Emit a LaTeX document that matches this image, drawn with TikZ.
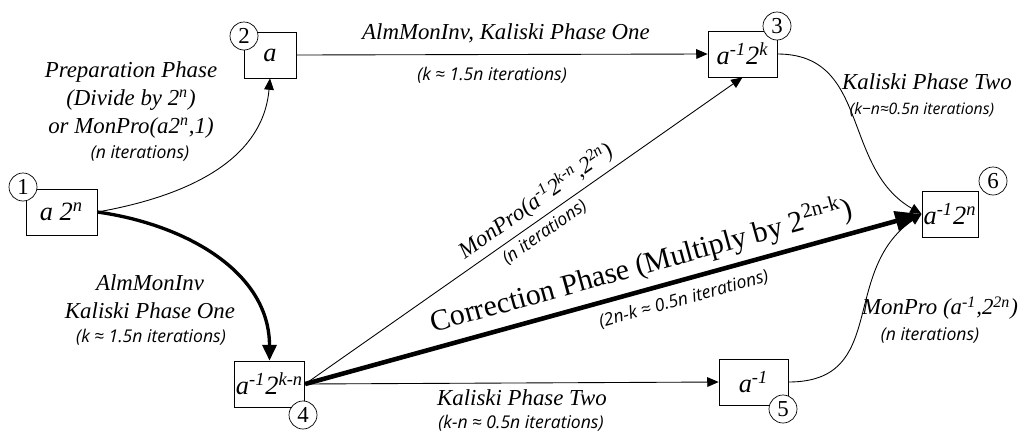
\documentclass[tikz,border=0pt]{standalone}
\usepackage{fontspec}
\setmainfont{Liberation Serif}
\newfontfamily\iterfont{Open Sans}
\usetikzlibrary{arrows.meta}

\begin{document}
\begin{tikzpicture}[x=0.02cm,y=-0.02cm,
  box/.style={draw,fill=white,inner sep=1pt,minimum height=0.92cm,font=\itshape\fontsize{15}{18}\selectfont},
  num/.style={draw,circle,fill=white,inner sep=0pt,minimum size=0.56cm,font=\fontsize{13}{15}\selectfont},
  lab/.style={font=\itshape\fontsize{13}{16}\selectfont,align=center,inner sep=1pt},
  iter/.style={font=\iterfont\itshape\fontsize{10}{12}\selectfont,inner sep=1pt},
  flow/.style={line width=0.5pt,-{Triangle[length=6.5pt,width=5.5pt]}},
  bigflow/.style={line width=1.9pt,-{Triangle[length=9pt,width=8pt]}},
  heavyflow/.style={line width=2.6pt,-{Triangle[length=15pt,width=11pt]}}]
\useasboundingbox (0,0) rectangle (1023,433);
% boxes
\node[box,minimum width=1.42cm] (n1) at (61.5,212) {a 2\textsuperscript{n}};
\node[box,minimum width=1.04cm] (n2) at (270,55) {a};
\node[box,minimum width=1.38cm] (n3) at (742.5,54) {a\textsuperscript{-1}2\textsuperscript{k}};
\node[box,minimum width=1.38cm] (n4) at (269.5,384) {a\textsuperscript{-1}2\textsuperscript{k-n}};
\node[box,minimum width=1.38cm] (n5) at (753.5,382) {a\textsuperscript{-1}};
\node[box,minimum width=1.08cm] (n6) at (950,214) {a\textsuperscript{-1}2\textsuperscript{n}};
% step numbers
\node[num] (c1) at (23,187) {1};
\node[num] (c2) at (244,36) {2};
\node[num] (c3) at (777,26) {3};
\node[num] (c4) at (303,415) {4};
\node[num] (c5) at (783,409) {5};
\node[num] (c6) at (993,181) {6};
% connectors
\draw[flow] (n1.east) to[out=10,in=-95] (n2.south);
\draw[flow] (n2.east) -- (n3.west);
\draw[bigflow] (n1.east) to[out=-8,in=90] (n4.north);
\draw[flow] (n3.east) to[out=0,in=150,looseness=1.1] (n6.west);
\draw[flow] (n5.east) to[out=0,in=215,looseness=1.2] (n6.west);
\draw[flow] (n4.east) -- (n5.west);
\draw[flow] (n4.east) -- (n3.south)
  node[pos=0.55,sloped,above=2pt,lab] (mpa) {MonPro(a\textsuperscript{-1}2\textsuperscript{k-n},2\textsuperscript{2n})}
  node[pos=0.53,sloped,below=2pt,iter] (mpait) {(n iterations)};
\draw[heavyflow] (n4.east) -- (n6.west)
  node[pos=0.556,sloped,above=3pt,font=\fontsize{17}{20}\selectfont,inner sep=1pt] (corr) {Correction Phase (Multiply by 2\textsuperscript{2n-k})}
  node[pos=0.606,sloped,below=4pt,iter] (corrit) {(2n-k ≈ 0.5n iterations)};
% labels
\node[lab] (prep) at (131,100) {Preparation Phase\\(Divide by 2\textsuperscript{n})\\or MonPro(a2\textsuperscript{n},1)};
\node[iter] (prepit) at (140,153) {(n iterations)};
\node[lab] (top) at (506,33) {AlmMonInv, Kaliski Phase One};
\node[iter] (topit) at (492,75) {(k ≈ 1.5n iterations)};
\node[lab] (kp2) at (927,82) {Kaliski Phase Two};
\node[iter,font=\iterfont\itshape\fontsize{9}{11}\selectfont] (kp2it) at (922,110) {(k−n≈0.5n iterations)};
\node[lab] (left) at (150,296.5) {AlmMonInv\\Kaliski Phase One};
\node[iter] (leftit) at (151,337) {(k ≈ 1.5n iterations)};
\node[lab] (bot) at (522,398) {Kaliski Phase Two};
\node[iter] (botit) at (521,423) {(k-n ≈ 0.5n iterations)};
\node[lab] (mp) at (940,308) {MonPro (a\textsuperscript{-1},2\textsuperscript{2n})};
\node[iter] (mpit) at (930,335) {(n iterations)};
\end{tikzpicture}
\end{document}
